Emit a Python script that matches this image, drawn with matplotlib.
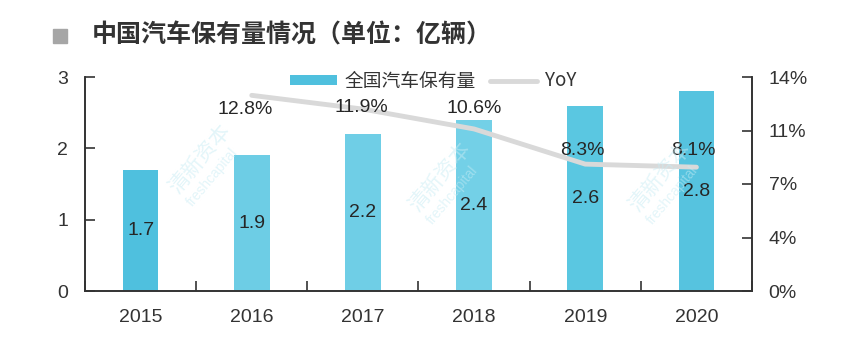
import matplotlib
matplotlib.use("Agg")
import matplotlib.pyplot as plt
import numpy as np

plt.rcParams['font.family'] = ['Liberation Sans', 'Noto Sans CJK SC', 'DejaVu Sans']

# data
years = ['2015', '2016', '2017', '2018', '2019', '2020']
car_stock = [1.7, 1.9, 2.2, 2.4, 2.6, 2.8]          # 亿辆
yoy_years = ['2016', '2017', '2018', '2019', '2020']
yoy = [12.8, 11.9, 10.6, 8.3, 8.1]                  # %
right_ticks = [0, 3.5, 7, 10.5, 14]
right_tick_labels = ['0%', '4%', '7%', '11%', '14%']

bar_colors = ['#4fc0de', '#6dcde5', '#6fcee6', '#73d0e7', '#5ac7e1', '#56c3df']
text_dark = '#262626'
# label offsets in points (dx, dy) for the YoY labels
yoy_label_offsets = [(-5, -10), (-1, 1), (0, 15), (-2, 10), (-2, 12)]

fig = plt.figure(figsize=(8.56, 3.54), dpi=100)
ax = fig.add_axes([85/856, 1-291/354, (752-85)/856, (291-77)/354])
ax2 = ax.twinx()

x = np.arange(len(years))
bars = ax.bar(x, car_stock, width=0.32, color=bar_colors, zorder=2, label='全国汽车保有量')
for xi, v in zip(x, car_stock):
    ax.text(xi, v/2, f'{v}', ha='center', va='center', fontsize=14, color=text_dark, zorder=5)

ax.set_xlim(-0.5, len(years)-0.5)
ax.set_ylim(0, 3)
ax.set_yticks([0, 1, 2, 3])
ax.set_xticks(x)
ax.set_xticklabels(years, family=['Liberation Sans Narrow', 'Liberation Sans'], fontsize=14, color='#333333')
ax.set_xticks(np.arange(len(years)+1)-0.5, minor=True)
ax.tick_params(axis='x', which='major', length=0, pad=13)
ax.tick_params(axis='x', which='minor', direction='in', length=7, width=1.2, color='#333333')
ax.tick_params(axis='y', direction='in', length=7, width=1.2, labelsize=14, labelcolor='#333333', pad=12, color='#333333')

# YoY line on the right axis
xl = [years.index(y) for y in yoy_years]
ax2.plot(xl, yoy, color='#d9d9d9', lw=3.5, solid_capstyle='round', zorder=3, label='YoY')
for xi, v, (dx, dy) in zip(xl, yoy, yoy_label_offsets):
    ax2.annotate(f'{v}%', (xi, v), xytext=(dx, dy), textcoords='offset points',
                 ha='center', va='center', fontsize=14, color=text_dark, zorder=6)
ax2.set_ylim(0, 14)
ax2.set_yticks(right_ticks)
ax2.set_yticklabels(right_tick_labels)
ax2.tick_params(axis='y', direction='in', length=7, width=1.2, labelsize=14, labelcolor='#333333', pad=12, color='#333333')

for a in (ax, ax2):
    a.spines['top'].set_visible(False)
    for s in ('left', 'right', 'bottom'):
        a.spines[s].set_color('#333333')
        a.spines[s].set_linewidth(1.2)

# faint watermark
for wx, wy in [(200/856, 0.55), (440/856, 0.5), (660/856, 0.5)]:
    fig.text(wx, wy, '清新资本', rotation=50, fontsize=15, color='#c8ecf4', alpha=0.5,
             family='Noto Sans CJK SC', ha='center', va='center', zorder=0)
    fig.text(wx + 0.015, wy - 0.05, 'freshcapital', rotation=50, fontsize=10, color='#c8ecf4', alpha=0.5,
             ha='center', va='center', zorder=0)

# legend
h1, l1 = ax.get_legend_handles_labels()
h2, l2 = ax2.get_legend_handles_labels()
fig.legend(h1 + h2, l1 + l2, loc='center', bbox_to_anchor=(433/856, 1-81/354), ncol=2, frameon=False,
           prop={'family': ['Noto Sans CJK SC', 'DejaVu Sans'], 'size': 13.5}, labelcolor='#333333',
           handlelength=2.5, handleheight=0.5, columnspacing=0.8, handletextpad=0.4)

# title
fig.patches.append(plt.Rectangle((53/856, 1-43/354), 14/856, 14/354, transform=fig.transFigure,
                                 color='#a6a6a6', figure=fig))
fig.text(92/856, 1-35/354, '中国汽车保有量情况（单位：亿辆）', fontsize=18, fontweight='bold',
         family=['Noto Sans CJK SC', 'DejaVu Sans'], color='#333333', ha='left', va='center')

fig.savefig('out.png', dpi=100)
